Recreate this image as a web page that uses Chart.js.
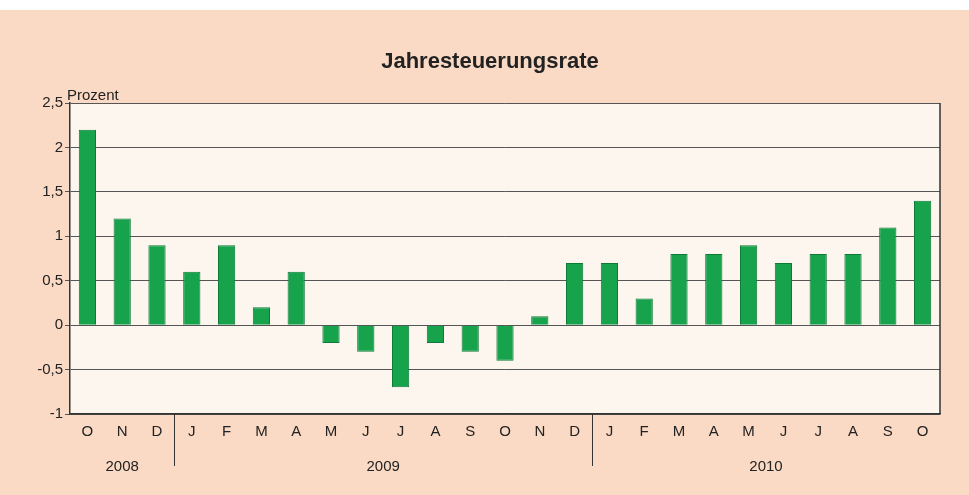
<!DOCTYPE html>
<html>
<head>
<meta charset="utf-8">
<script src="https://cdn.jsdelivr.net/npm/chart.js@4"></script>
<style>
  html, body { margin: 0; padding: 0; background: #ffffff; }
  #wrap { position: absolute; left: 0; top: 10px; width: 969px; height: 485px; background: #fbdac5; }
  canvas { display: block; }
</style>
</head>
<body>
<div id="wrap"><canvas id="c" width="969" height="485"></canvas></div>
<script>
// Monate (Okt 2008 bis Okt 2010)
const months = ['O', 'N', 'D', 'J', 'F', 'M', 'A', 'M', 'J', 'J', 'A', 'S', 'O', 'N', 'D',
                'J', 'F', 'M', 'A', 'M', 'J', 'J', 'A', 'S', 'O'];
// Jahresteuerungsrate in Prozent
const rates = [2.2, 1.2, 0.9, 0.6, 0.9, 0.2, 0.6, -0.2, -0.3, -0.7, -0.2, -0.3, -0.4, 0.1, 0.7,
               0.7, 0.3, 0.8, 0.8, 0.9, 0.7, 0.8, 0.8, 1.1, 1.4];
// Jahresgruppen: Label, erster und letzter Monatsindex
const years = ['2008', '2009', '2010'];
const yearStart = [0, 3, 15];
const yearEnd = [2, 14, 24];

const TEXT = '#222222';
const FONT = '"Liberation Sans", Arial, sans-serif';

// Hintergrund der Zeichenfläche, rechter Rahmen, Titel, Jahre
const decor = {
    id: 'decor',
    beforeDraw(chart) {
        const { ctx, chartArea: a } = chart;
        ctx.save();
        ctx.fillStyle = '#fdf6ef';
        ctx.fillRect(a.left, a.top, a.right - a.left, a.bottom - a.top);
        ctx.restore();
    },
    afterDraw(chart) {
        const { ctx, chartArea: a } = chart;
        const x = chart.scales.x;
        ctx.save();
        ctx.strokeStyle = '#333333';
        ctx.lineWidth = 1.5;
        ctx.beginPath();
        ctx.moveTo(a.right, a.top);
        ctx.lineTo(a.right, a.bottom);
        ctx.stroke();

        // Titel
        ctx.fillStyle = TEXT;
        ctx.textAlign = 'center';
        ctx.textBaseline = 'middle';
        ctx.font = 'bold 22px ' + FONT;
        ctx.fillText('Jahresteuerungsrate', 490, 52);

        // Einheit
        ctx.font = '15px ' + FONT;
        ctx.textAlign = 'left';
        ctx.textBaseline = 'alphabetic';
        ctx.fillText('Prozent', 67, 90);

        // Jahre und Trennstriche
        const half = (x.getPixelForValue(1) - x.getPixelForValue(0)) / 2;
        ctx.textAlign = 'center';
        ctx.textBaseline = 'middle';
        years.forEach((y, i) => {
            const l = x.getPixelForValue(yearStart[i]) - half;
            const r = x.getPixelForValue(yearEnd[i]) + half;
            ctx.fillText(y, (l + r) / 2, a.bottom + 53);
            if (i > 0) {
                ctx.lineWidth = 1;
                ctx.beginPath();
                ctx.moveTo(Math.round(l) + 0.5, a.bottom);
                ctx.lineTo(Math.round(l) + 0.5, a.bottom + 52);
                ctx.stroke();
            }
        });
        ctx.restore();
    }
};

new Chart(document.getElementById('c'), {
    type: 'bar',
    data: {
        labels: months,
        datasets: [{
            data: rates,
            backgroundColor: '#17a24c',
            borderColor: '#0f7a37',
            borderWidth: 1,
            barPercentage: 0.9,
            categoryPercentage: 0.55
        }]
    },
    options: {
        responsive: false,
        animation: false,
        layout: { padding: { left: 0, right: 29, top: 93, bottom: 0 } },
        plugins: { legend: { display: false }, tooltip: { enabled: false } },
        scales: {
            x: {
                grid: { display: false, drawTicks: false },
                border: { display: true, color: '#333333', width: 1.5 },
                ticks: { color: TEXT, font: { family: FONT, size: 15 }, padding: 9, maxRotation: 0, autoSkip: false },
                afterFit(s) { s.height = 81; }
            },
            y: {
                min: -1,
                max: 2.5,
                grid: { color: '#555555', lineWidth: 1, drawTicks: true, tickLength: 5 },
                border: { display: true, color: '#333333', width: 1.5 },
                ticks: {
                    stepSize: 0.5,
                    color: TEXT,
                    padding: 2,
                    font: { family: FONT, size: 15 },
                    callback: v => String(v).replace('.', ',')
                },
                afterFit(s) { s.width = 70; }
            }
        }
    },
    plugins: [decor]
});
</script>
</body>
</html>
